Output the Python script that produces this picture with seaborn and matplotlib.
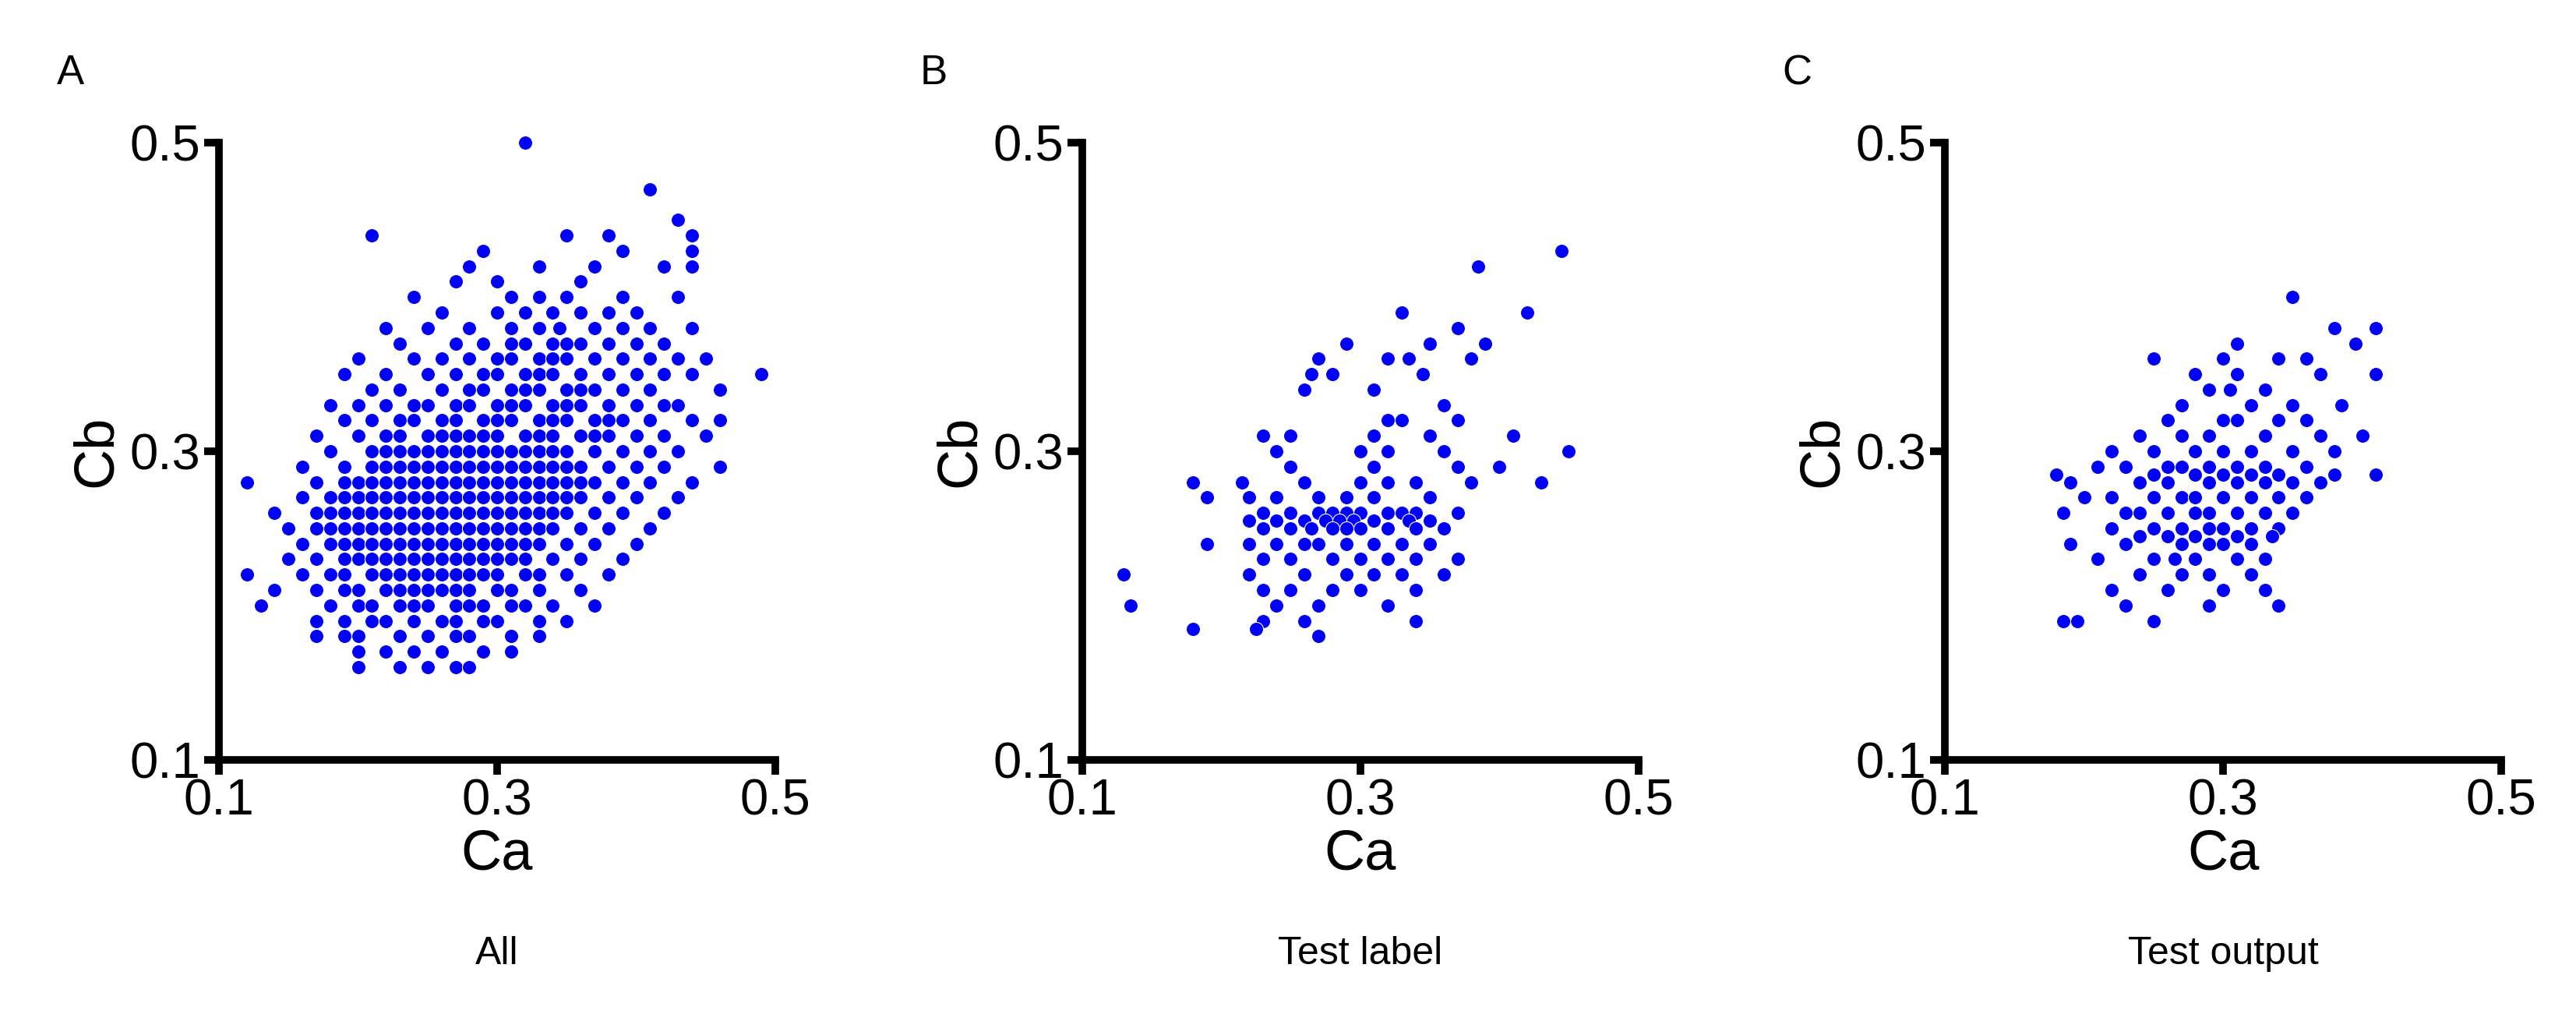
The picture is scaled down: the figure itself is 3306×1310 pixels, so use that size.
'''
Three Ca vs Cb scatter panels: all samples, test labels, test outputs
'''

import numpy as np
import pandas as pd
import matplotlib
matplotlib.use('Agg')
import matplotlib.pyplot as plt
import seaborn as sns

# Points, grouped by Cb row: {Cb: [Ca, ...]}
rows_all = {
    0.50: [0.32],
    0.47: [0.41],
    0.45: [0.43],
    0.44: [0.21, 0.35, 0.38, 0.44],
    0.43: [0.29, 0.39, 0.44],
    0.42: [0.28, 0.33, 0.37, 0.42, 0.44],
    0.41: [0.27, 0.30, 0.36],
    0.40: [0.24, 0.31, 0.33, 0.35, 0.39, 0.43],
    0.39: [0.26, 0.30, 0.32, 0.34, 0.36, 0.38, 0.40],
    0.38: [0.22, 0.25, 0.28, 0.31, 0.33, 0.345, 0.37, 0.39, 0.41, 0.44],
    0.37: [0.23, 0.27, 0.29, 0.31, 0.32, 0.34, 0.35, 0.36, 0.38, 0.40, 0.42],
    0.36: [0.20, 0.24, 0.26, 0.28, 0.30, 0.31, 0.33, 0.34, 0.35, 0.37, 0.39, 0.41, 0.43, 0.45],
    0.35: [0.19, 0.22, 0.25, 0.27, 0.29, 0.30, 0.32, 0.33, 0.34, 0.36, 0.38, 0.40, 0.42, 0.44, 0.49],
    0.34: [0.21, 0.23, 0.26, 0.28, 0.29, 0.31, 0.32, 0.33, 0.35, 0.36, 0.37, 0.39, 0.41, 0.46],
    0.33: [0.18, 0.20, 0.22, 0.24, 0.25, 0.27, 0.28, 0.30, 0.31, 0.32, 0.34, 0.35, 0.36, 0.38, 0.40, 0.42, 0.43],
    0.32: [0.19, 0.21, 0.23, 0.24, 0.26, 0.27, 0.29, 0.30, 0.31, 0.33, 0.34, 0.35, 0.37, 0.38, 0.39, 0.41, 0.44, 0.46],
    0.31: [0.17, 0.20, 0.22, 0.23, 0.25, 0.26, 0.27, 0.28, 0.29, 0.30, 0.32, 0.33, 0.34, 0.36, 0.37, 0.38, 0.40, 0.42, 0.45],
    0.30: [0.18, 0.21, 0.22, 0.23, 0.24, 0.25, 0.26, 0.27, 0.28, 0.29, 0.30, 0.31, 0.32, 0.33, 0.34, 0.35, 0.37, 0.39, 0.41, 0.43],
    0.29: [0.16, 0.19, 0.21, 0.22, 0.23, 0.24, 0.25, 0.26, 0.27, 0.28, 0.29, 0.30, 0.31, 0.32, 0.33, 0.34, 0.35, 0.36, 0.38, 0.40, 0.42, 0.46],
    0.28: [0.12, 0.17, 0.19, 0.20, 0.21, 0.22, 0.23, 0.24, 0.25, 0.26, 0.27, 0.28, 0.29, 0.30, 0.31, 0.32, 0.33, 0.34, 0.35, 0.36, 0.37, 0.39, 0.41, 0.44],
    0.27: [0.16, 0.18, 0.19, 0.20, 0.21, 0.22, 0.23, 0.24, 0.25, 0.26, 0.27, 0.28, 0.29, 0.30, 0.31, 0.32, 0.33, 0.34, 0.35, 0.36, 0.38, 0.40, 0.43],
    0.26: [0.14, 0.17, 0.18, 0.19, 0.20, 0.21, 0.22, 0.23, 0.24, 0.25, 0.26, 0.27, 0.28, 0.29, 0.30, 0.31, 0.32, 0.33, 0.34, 0.35, 0.37, 0.39, 0.42],
    0.25: [0.15, 0.17, 0.18, 0.19, 0.20, 0.21, 0.22, 0.23, 0.24, 0.25, 0.26, 0.27, 0.28, 0.29, 0.30, 0.31, 0.32, 0.33, 0.34, 0.36, 0.38, 0.41],
    0.24: [0.16, 0.18, 0.19, 0.20, 0.21, 0.22, 0.23, 0.24, 0.25, 0.26, 0.27, 0.28, 0.29, 0.30, 0.31, 0.32, 0.33, 0.35, 0.37, 0.40],
    0.23: [0.15, 0.17, 0.19, 0.20, 0.21, 0.22, 0.23, 0.24, 0.25, 0.26, 0.27, 0.28, 0.29, 0.30, 0.31, 0.32, 0.34, 0.36, 0.39],
    0.22: [0.12, 0.16, 0.18, 0.19, 0.21, 0.22, 0.23, 0.24, 0.25, 0.26, 0.27, 0.28, 0.29, 0.30, 0.32, 0.33, 0.35, 0.38],
    0.21: [0.14, 0.17, 0.19, 0.20, 0.22, 0.23, 0.24, 0.25, 0.26, 0.27, 0.28, 0.30, 0.31, 0.33, 0.36],
    0.20: [0.13, 0.18, 0.20, 0.21, 0.23, 0.24, 0.25, 0.27, 0.28, 0.29, 0.31, 0.32, 0.34, 0.37],
    0.19: [0.17, 0.19, 0.21, 0.22, 0.24, 0.26, 0.27, 0.29, 0.30, 0.33, 0.35],
    0.18: [0.17, 0.19, 0.20, 0.23, 0.25, 0.27, 0.28, 0.31, 0.33],
    0.17: [0.20, 0.22, 0.24, 0.26, 0.29, 0.31],
    0.16: [0.20, 0.23, 0.25, 0.27, 0.28],
}

rows_label = {
    0.43: [0.445],
    0.42: [0.385],
    0.39: [0.33, 0.42],
    0.38: [0.37],
    0.37: [0.29, 0.35, 0.39],
    0.36: [0.27, 0.32, 0.335, 0.38],
    0.35: [0.265, 0.28, 0.345],
    0.34: [0.26, 0.31],
    0.33: [0.36],
    0.32: [0.32, 0.33, 0.37],
    0.31: [0.23, 0.25, 0.31, 0.35, 0.41],
    0.30: [0.24, 0.30, 0.32, 0.36, 0.45],
    0.29: [0.25, 0.31, 0.37, 0.40],
    0.28: [0.18, 0.215, 0.26, 0.30, 0.32, 0.34, 0.38, 0.43],
    0.27: [0.19, 0.22, 0.24, 0.27, 0.29, 0.31, 0.35],
    0.26: [0.23, 0.25, 0.27, 0.28, 0.29, 0.30, 0.32, 0.33, 0.34, 0.37],
    0.255: [0.22, 0.24, 0.26, 0.275, 0.285, 0.295, 0.31, 0.335, 0.35],
    0.25: [0.23, 0.25, 0.265, 0.28, 0.29, 0.30, 0.32, 0.34, 0.36],
    0.24: [0.19, 0.22, 0.24, 0.26, 0.27, 0.29, 0.31, 0.33, 0.35],
    0.23: [0.23, 0.25, 0.28, 0.30, 0.32, 0.34, 0.37],
    0.22: [0.13, 0.22, 0.26, 0.29, 0.31, 0.33, 0.36],
    0.21: [0.23, 0.25, 0.28, 0.30, 0.34],
    0.20: [0.135, 0.24, 0.27, 0.32],
    0.19: [0.23, 0.26, 0.34],
    0.185: [0.18, 0.225],
    0.18: [0.27],
}

rows_output = {
    0.40: [0.35],
    0.38: [0.38, 0.41],
    0.37: [0.31, 0.395],
    0.36: [0.25, 0.30, 0.34, 0.36],
    0.35: [0.28, 0.31, 0.37, 0.41],
    0.34: [0.29, 0.305, 0.33],
    0.33: [0.27, 0.32, 0.35, 0.385],
    0.32: [0.26, 0.30, 0.31, 0.34, 0.36],
    0.31: [0.24, 0.27, 0.29, 0.33, 0.37, 0.40],
    0.30: [0.22, 0.25, 0.28, 0.30, 0.32, 0.35, 0.38],
    0.29: [0.21, 0.23, 0.26, 0.27, 0.29, 0.31, 0.33, 0.36],
    0.285: [0.18, 0.25, 0.28, 0.30, 0.32, 0.34, 0.38, 0.41],
    0.28: [0.19, 0.24, 0.26, 0.29, 0.31, 0.33, 0.35, 0.37],
    0.27: [0.20, 0.22, 0.25, 0.27, 0.28, 0.30, 0.32, 0.34, 0.36],
    0.26: [0.185, 0.23, 0.24, 0.26, 0.28, 0.29, 0.31, 0.33, 0.35],
    0.25: [0.22, 0.25, 0.27, 0.29, 0.30, 0.32, 0.34],
    0.245: [0.24, 0.26, 0.28, 0.31, 0.335],
    0.24: [0.19, 0.23, 0.27, 0.29, 0.30, 0.32],
    0.23: [0.21, 0.25, 0.265, 0.28, 0.31, 0.33],
    0.22: [0.24, 0.27, 0.29, 0.32],
    0.21: [0.22, 0.26, 0.30, 0.33],
    0.20: [0.23, 0.29, 0.34],
    0.19: [0.185, 0.195, 0.25],
}

panel_letters = ['A', 'B', 'C']
panel_titles = ['All', 'Test label', 'Test output']
ticks = [0.1, 0.3, 0.5]


def rows_to_df(rows):
    ca, cb = [], []
    for y, xs in rows.items():
        ca.extend(xs)
        cb.extend([y] * len(xs))
    return pd.DataFrame({'Ca': ca, 'Cb': cb})


sns.set_style('ticks')
plt.rcParams['font.family'] = ['Liberation Sans', 'DejaVu Sans']
plt.rcParams['text.color'] = 'black'
plt.rcParams['axes.labelcolor'] = 'black'
plt.rcParams['xtick.color'] = 'black'
plt.rcParams['ytick.color'] = 'black'
plt.rcParams['axes.edgecolor'] = 'black'

fig = plt.figure(figsize=(33.06, 13.10), dpi=100)
lefts = [0.085, 0.420, 0.755]

for i, rows in enumerate([rows_all, rows_label, rows_output]):
    ax = fig.add_axes([lefts[i], 0.256, 0.216, 0.604])
    df = rows_to_df(rows)
    sns.scatterplot(data=df, x='Ca', y='Cb', ax=ax, color='#0000ff',
                    s=170, edgecolor='white', linewidth=0.8, clip_on=False)
    ax.set_xlim(0.1, 0.5)
    ax.set_ylim(0.1, 0.5)
    ax.set_xticks(ticks)
    ax.set_yticks(ticks)
    ax.set_xticklabels([str(t) for t in ticks])
    ax.set_yticklabels([str(t) for t in ticks])
    ax.tick_params(axis='both', labelsize=47, width=7, length=14, pad=3)
    for side in ['left', 'bottom']:
        ax.spines[side].set_linewidth(7)
    sns.despine(ax=ax)
    ax.set_xlabel('Ca', fontsize=52, labelpad=4)
    ax.set_ylabel('Cb', fontsize=52, labelpad=6)
    # panel letter and caption below
    fig.text(lefts[i] - 0.063, 0.928, panel_letters[i], fontsize=38, va='center')
    fig.text(lefts[i] + 0.108, 0.066, panel_titles[i], fontsize=36, ha='center', va='center')

fig.savefig('out.png', dpi=100)
